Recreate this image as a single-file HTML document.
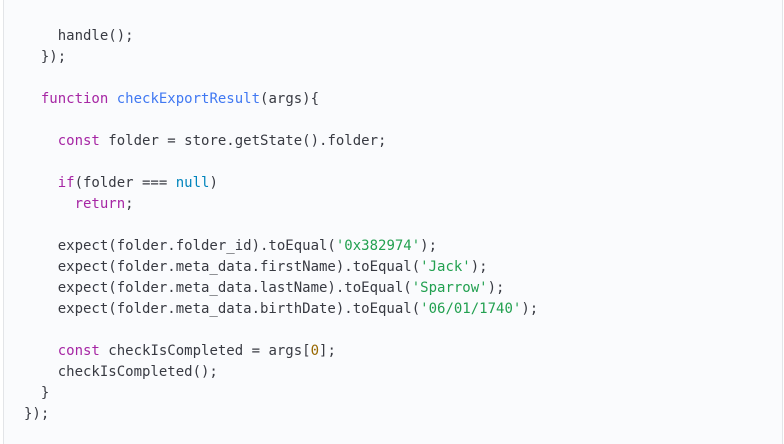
<!DOCTYPE html>
<html><head><style>
html,body{margin:0;padding:0;width:784px;height:444px;overflow:hidden;background:#fff}
.box{position:absolute;left:3px;top:0;width:778px;height:444px;background:#fafbfd;border-left:1px solid #e3e5e8;border-right:1px solid #e3e5e8}
pre{position:absolute;left:24px;top:26px;margin:0;font-family:"DejaVu Sans Mono","Liberation Mono",monospace;font-size:14px;line-height:21px;color:#383a42}
.k{color:#a626a4}.f{color:#4078f2}.n{color:#0184bc}.s{color:#22a050}.o{color:#986801}
</style></head><body>
<div class="box"></div>
<pre>    handle();
  });

  <span class="k">function</span> <span class="f">checkExportResult</span>(args){

    <span class="k">const</span> folder = store.getState().folder;

    <span class="k">if</span>(folder === <span class="n">null</span>)
      <span class="k">return</span>;

    expect(folder.folder_id).toEqual(<span class="s">'0x382974'</span>);
    expect(folder.meta_data.firstName).toEqual(<span class="s">'Jack'</span>);
    expect(folder.meta_data.lastName).toEqual(<span class="s">'Sparrow'</span>);
    expect(folder.meta_data.birthDate).toEqual(<span class="s">'06/01/1740'</span>);

    <span class="k">const</span> checkIsCompleted = args[<span class="o">0</span>];
    checkIsCompleted();
  }
});</pre>
</body></html>
